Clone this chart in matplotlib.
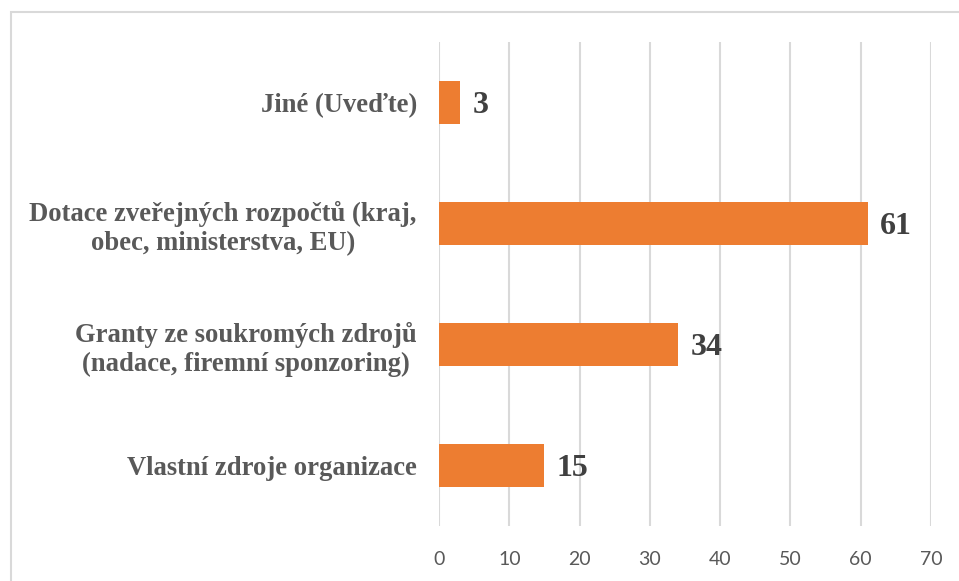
import matplotlib
matplotlib.use("Agg")
import matplotlib.pyplot as plt
from matplotlib.patches import Rectangle

categories = ["Vlastní zdroje organizace",
              "Granty ze soukromých zdrojů\n(nadace, firemní sponzoring)",
              "Dotace zveřejných rozpočtů (kraj,\nobec, ministerstva, EU)",
              "Jiné (Uveďte)"]
values = [15, 34, 61, 3]
xticks = [0, 10, 20, 30, 40, 50, 60, 70]

W, H = 959, 581
fig = plt.figure(figsize=(W/100, H/100), dpi=100)
ax = fig.add_axes([439/W, 1-526/H, (931-439)/W, (526-42)/H])

ypos = list(range(len(categories)))
ax.barh(ypos, values, height=0.35, color="#ED7D31", zorder=3)
ax.set_xlim(0, 70)
ax.set_ylim(-0.5, len(categories)-0.5)
ax.set_xticks(xticks)
ax.set_xticklabels([str(t) for t in xticks], fontfamily="Lato", fontsize=14, color="#595959")
ax.set_yticks(ypos)
ax.set_yticklabels(categories, fontfamily="Liberation Serif", fontweight="bold",
                   fontsize=19.2, color="#595959", linespacing=1.2)
ax.tick_params(axis="y", length=0, pad=16)
ax.tick_params(axis="x", length=0, pad=18)
for lbl in ax.get_yticklabels():
    lbl.set_multialignment("center")
    lbl.set_horizontalalignment("right")
ax.grid(axis="x", color="#d9d9d9", linewidth=1.5, zorder=0)
for s in ax.spines.values():
    s.set_visible(False)

for y, v in zip(ypos, values):
    ax.annotate(str(v), xy=(v, y), xytext=(9, -2), textcoords="offset points",
                ha="left", va="center", fontfamily="Liberation Serif", fontweight="bold",
                fontsize=23, color="#404040")

fig.patches.append(Rectangle((11/W, -0.1), 1.2, 1.1 - 12/H, transform=fig.transFigure,
                             fill=False, edgecolor="#d9d9d9", linewidth=1.5))
fig.savefig("out.png", dpi=100)
